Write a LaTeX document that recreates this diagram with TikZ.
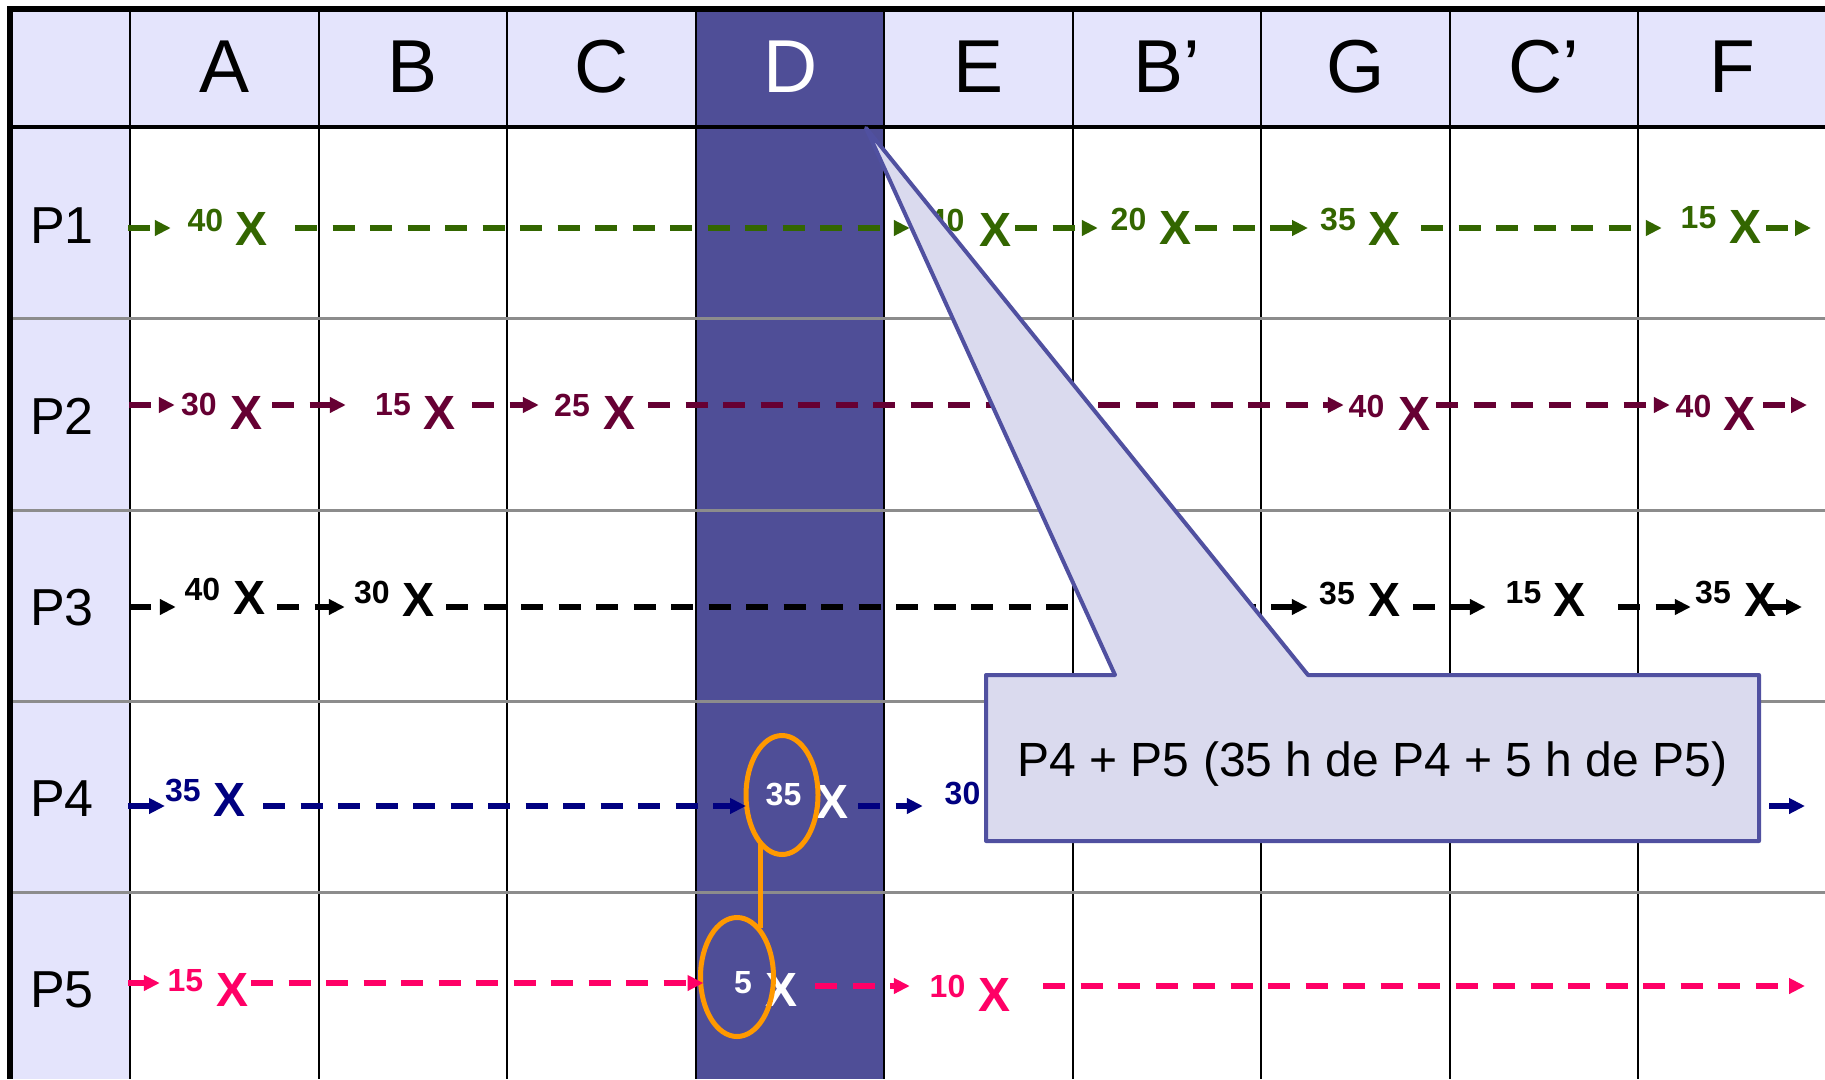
\documentclass[tikz,border=0pt]{standalone}
\usepackage{fontspec}
\setmainfont{Liberation Sans}
\usetikzlibrary{arrows.meta,shapes.geometric}
\definecolor{hdrfill}{HTML}{E4E4FC}
\definecolor{dfill}{HTML}{4F4E97}
\definecolor{cfill}{HTML}{DADAEE}
\definecolor{cdraw}{HTML}{5050A0}
\definecolor{cgreen}{HTML}{336600}
\definecolor{cmaroon}{HTML}{660033}
\definecolor{cnavy}{HTML}{000080}
\definecolor{cpink}{HTML}{FF0066}
\definecolor{corange}{HTML}{FF9900}
\definecolor{rowgray}{HTML}{8C8C8C}
\newcommand\segm[6]{\draw[arrline,#1,shorten <=#4pt,shorten >=#5pt] (#2 |- #6) -- (#3 |- #6);}
\begin{document}
\begin{tikzpicture}[x=1pt,y=-1pt,
  hdr/.style={font=\fontsize{75}{80}\selectfont,anchor=base,inner sep=0pt},
  lbl/.style={font=\fontsize{52}{56}\selectfont,anchor=base,inner sep=0pt},
  num/.style={font=\bfseries\fontsize{32}{36}\selectfont,inner sep=0pt},
  bigx/.style={font=\bfseries\fontsize{48}{52}\selectfont,inner sep=0pt},
  arrline/.style={line width=6.5pt,dash pattern=on 22pt off 15.5pt,-{Triangle[length=16pt,width=15pt]}},
  ring/.style={draw=corange,line width=5pt,ellipse,inner sep=0pt,outer sep=0pt,minimum height=119pt},
  calloutbox/.style={fill=cfill,draw=cdraw,line width=4pt,line join=round},
]
\useasboundingbox (0,0) rectangle (1825,1079);
\fill[white] (0,0) rectangle (1825,1079);
% fills
\fill[hdrfill] (10,9) rectangle (1825,127);
\fill[hdrfill] (10,127) rectangle (130.4,1079);
\fill[dfill] (695.9,9) rectangle (884.3,1079);
% grid
\foreach \x in {130.4,318.7,507.3,695.9,884.3,1072.9,1261,1449.6,1637.8}
  \draw[black,line width=2pt] (\x,9) -- (\x,1079);
\foreach \y in {318,510,701,892}
  \draw[rowgray,line width=3pt] (10,\y) -- (1825,\y);
\draw[black,line width=3.5pt] (10,127) -- (1825,127);
\draw[black,line width=6pt] (7,9) -- (1825,9);
\draw[black,line width=6pt] (10,6) -- (10,1079);
% header
\node[hdr] (hA) at (224.5,92) {A};
\node[hdr] (hB) at (413,92) {B};
\node[hdr] (hC) at (601.6,92) {C};
\node[hdr,text=white] (hD) at (790.1,92) {D};
\node[hdr] (hE) at (978.6,92) {E};
\node[hdr] (hBp) at (1167,92) {B’};
\node[hdr] (hG) at (1355.3,92) {G};
\node[hdr] (hCp) at (1543.7,92) {C’};
\node[hdr] (hF) at (1732,92) {F};
% row labels
\node[lbl] (lP1) at (62,243) {P1};
\node[lbl] (lP2) at (62,434) {P2};
\node[lbl] (lP3) at (62,625) {P3};
\node[lbl] (lP4) at (62,816) {P4};
\node[lbl] (lP5) at (62,1007) {P5};
% row lines
\coordinate (r1) at (0,228);
\coordinate (r2) at (0,405);
\coordinate (r3) at (0,607);
\coordinate (r4) at (0,806);
\coordinate (r5) at (0,983);
\coordinate (r5b) at (0,986);
% P1
\coordinate (s1) at (128,228);
\coordinate (t1) at (1811,228);
\node[num,text=cgreen] (n11) at (205.5,220) {40};
\node[bigx,text=cgreen] (x11) at (252,229) {X};
\node[num,text=cgreen] (n12) at (946.5,220) {40};
\node[bigx,text=cgreen] (x12) at (995,230) {X};
\node[num,text=cgreen] (n13) at (1128.5,219) {20};
\node[bigx,text=cgreen] (x13) at (1175,228) {X};
\node[num,text=cgreen] (n14) at (1338,220) {35};
\node[bigx,text=cgreen] (x14) at (1384.5,229) {X};
\node[num,text=cgreen] (n15) at (1698.5,218) {15};
\node[bigx,text=cgreen] (x15) at (1745,227) {X};
\segm{cgreen}{s1}{n11.west}{0}{16.7}{r1}
\segm{cgreen}{x11.east}{n12.west}{27}{18.7}{r1}
\segm{cgreen}{x12.east}{n13.west}{4}{12.7}{r1}
\segm{cgreen}{x13.east}{n14.west}{4}{12}{r1}
\segm{cgreen}{x14.east}{n15.west}{20.5}{18.7}{r1}
\segm{cgreen}{x15.east}{t1}{5}{0}{r1}
% P2
\coordinate (s2) at (129,405);
\coordinate (t2) at (1807,405);
\node[num,text=cmaroon] (n21) at (199,405) {30};
\node[bigx,text=cmaroon] (x21) at (246.5,413) {X};
\node[num,text=cmaroon] (n22) at (393,405) {15};
\node[bigx,text=cmaroon] (x22) at (439.5,413) {X};
\node[num,text=cmaroon] (n23) at (572,405) {25};
\node[bigx,text=cmaroon] (x23) at (619,413) {X};
\node[num,text=cmaroon] (n24) at (1366.5,406) {40};
\node[bigx,text=cmaroon] (x24) at (1414,414) {X};
\node[num,text=cmaroon] (n25) at (1693.5,406) {40};
\node[bigx,text=cmaroon] (x25) at (1739.5,414) {X};
\segm{cmaroon}{s2}{n21.west}{0}{6.2}{r2}
\segm{cmaroon}{x21.east}{n22.west}{9.5}{29.2}{r2}
\segm{cmaroon}{x22.east}{n23.west}{16.5}{15.2}{r2}
\segm{cmaroon}{x23.east}{n24.west}{13}{4.7}{r2}
\segm{cmaroon}{x24.east}{n25.west}{6}{5.7}{r2}
\segm{cmaroon}{x25.east}{t2}{7.5}{0}{r2}
% P3
\coordinate (s3) at (129,607);
\coordinate (t3) at (1802,607);
\node[num,text=black] (n31) at (202.5,589) {40};
\node[bigx,text=black] (x31) at (250,598) {X};
\node[num,text=black] (n32) at (372,592) {30};
\node[bigx,text=black] (x32) at (419,600) {X};
\node[num,text=black] (n33) at (1337,593) {35};
\node[bigx,text=black] (x33) at (1384,600) {X};
\node[num,text=black] (n34) at (1523.5,593) {15};
\node[bigx,text=black] (x34) at (1569.5,600) {X};
\node[num,text=black] (n35) at (1713,592) {35};
\node[bigx,text=black] (x35) at (1760,600) {X};
\segm{black}{s3}{n31.west}{0}{8.7}{r3}
\segm{black}{x31.east}{n32.west}{11}{9.2}{r3}
\segm{black}{x32.east}{n33.west}{11}{11.2}{r3}
\segm{black}{x33.east}{n34.west}{13}{19.7}{r3}
\segm{black}{x34.east}{n35.west}{32.5}{4.2}{r3}
\segm{black}{x35.center}{t3}{6}{0}{r3}
% P4
\coordinate (s4) at (128,806);
\coordinate (t4) at (1805,806);
\node[num,text=cnavy] (n41) at (183,790.5) {35};
\node[bigx,text=cnavy] (x41) at (229.5,800) {X};
\node[num,text=white] (n42) at (783.5,794) {35};
\node[bigx,text=white] (x42) at (832,801.5) {X};
\node[num,text=cnavy] (n43) at (962.5,793.5) {30};
% P5
\coordinate (s5) at (128,983);
\coordinate (t5) at (1805,986);
\node[num,text=cpink] (n51) at (185.5,981) {15};
\node[bigx,text=cpink] (x51) at (232.5,990) {X};
\node[num,text=white] (n52) at (743,982.5) {5};
\node[bigx,text=white] (x52) at (781.5,990) {X};
\node[num,text=cpink] (n53) at (947.5,986) {10};
\node[bigx,text=cpink] (x53) at (994.5,995) {X};
% rings
\node[ring,minimum width=72pt] (e1) at (782,795) {};
\node[ring,minimum width=73pt] (e2) at (737,977) {};
\draw[corange,line width=5pt] (e1.245) -- (e1.245 |- e2.67);
\segm{cnavy}{s4}{n41.west}{0}{0}{r4}
\segm{cnavy}{x41.east}{e1.west}{17.5}{0}{r4}
\segm{cnavy}{x42.east}{n43.west}{10}{21.7}{r4}
\segm{cnavy}{n43.east}{t4}{38.7}{0}{r4}
\segm{cpink}{s5}{n51.west}{0}{7.7}{r5}
\segm{cpink}{x51.east}{e2.west}{2.5}{-3}{r5}
\segm{cpink}{x52.east}{n53.west}{17.5}{19.7}{r5b}
\segm{cpink}{x53.east}{t5}{32.5}{0}{r5b}
% callout
\draw[calloutbox] (986,675) -- (1115,675) -- (866,128) -- (1308,675) -- (1759,675) -- (1759,841) -- (986,841) -- cycle;
\node[font=\fontsize{48}{52}\selectfont,anchor=base,inner sep=0pt] (ctext) at (1372.5,776) {P4 + P5 (35 h de P4 + 5 h de P5)};
\end{tikzpicture}
\end{document}
